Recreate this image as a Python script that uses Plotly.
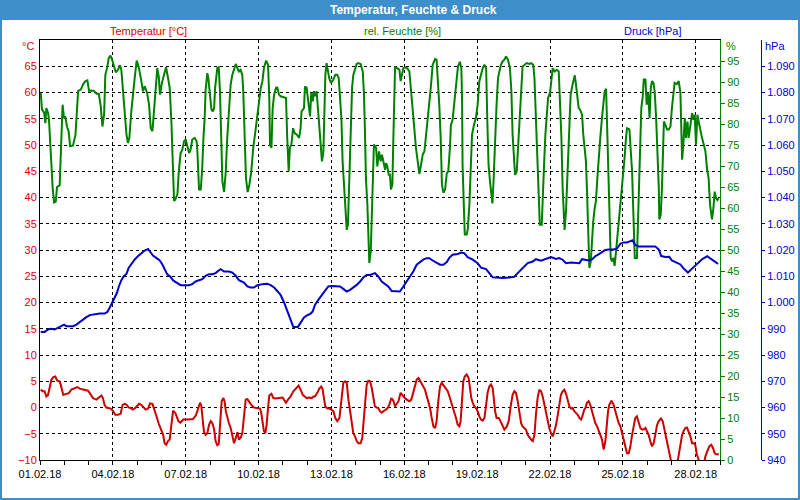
import pandas as pd
import plotly.graph_objects as go

start = pd.Timestamp("2018-02-01")

# ---- data (days since 01.02.18 00:00, values) ----
temp_days = [0.03,0.11,0.19,0.26,0.33,0.40,0.47,0.55,0.63,0.71,0.80,0.85,0.91,0.96,1.08,1.18,1.29,1.43,1.54,1.63,1.74,1.84,1.98,2.07,2.18,2.32,2.42,2.53,2.59,2.66,2.73,2.83,2.91,3.01,3.10,3.21,3.32,3.40,3.49,3.57,3.65,3.73,3.82,3.90,3.98,4.08,4.17,4.27,4.35,4.45,4.53,4.63,4.72,4.80,4.89,5.00,5.07,5.13,5.20,5.27,5.34,5.41,5.48,5.58,5.70,5.78,5.90,6.10,6.30,6.42,6.52,6.59,6.64,6.70,6.75,6.82,6.89,6.96,7.03,7.10,7.17,7.23,7.30,7.36,7.41,7.48,7.55,7.60,7.65,7.71,7.78,7.85,7.92,7.99,8.06,8.13,8.19,8.26,8.33,8.40,8.47,8.54,8.62,8.70,8.81,8.95,9.06,9.11,9.17,9.22,9.28,9.33,9.39,9.44,9.53,9.61,9.70,9.80,9.91,9.99,10.07,10.13,10.21,10.32,10.43,10.54,10.65,10.73,10.82,10.90,10.98,11.08,11.19,11.26,11.32,11.42,11.50,11.58,11.64,11.69,11.75,11.83,11.91,12.00,12.08,12.16,12.24,12.33,12.38,12.44,12.49,12.56,12.63,12.70,12.77,12.83,12.90,12.97,13.04,13.11,13.20,13.27,13.34,13.40,13.45,13.52,13.59,13.66,13.73,13.79,13.86,13.93,14.00,14.07,14.14,14.21,14.30,14.38,14.47,14.55,14.62,14.69,14.76,14.85,14.93,15.02,15.10,15.21,15.29,15.37,15.44,15.51,15.59,15.65,15.72,15.78,15.85,15.92,15.99,16.06,16.13,16.20,16.27,16.33,16.40,16.47,16.54,16.61,16.68,16.73,16.79,16.86,16.92,16.99,17.06,17.13,17.20,17.27,17.32,17.38,17.43,17.49,17.57,17.65,17.71,17.76,17.82,17.88,17.95,18.02,18.09,18.16,18.23,18.30,18.37,18.43,18.50,18.57,18.64,18.68,18.74,18.80,18.89,18.96,19.02,19.12,19.22,19.30,19.39,19.46,19.53,19.60,19.67,19.74,19.81,19.87,19.94,20.01,20.08,20.15,20.22,20.29,20.36,20.42,20.49,20.56,20.63,20.70,20.77,20.84,20.90,20.97,21.04,21.11,21.18,21.25,21.32,21.38,21.45,21.52,21.59,21.66,21.73,21.80,21.87,21.93,22.00,22.07,22.14,22.21,22.28,22.35,22.41,22.46,22.52,22.59,22.66,22.73,22.80,22.87,22.94,23.00,23.07,23.14,23.21,23.28,23.33,23.39,23.44,23.53,23.62,23.69,23.76,23.83,23.90,23.97,24.03,24.10,24.17,24.24,24.31,24.38,24.45,24.51,24.58,24.65,24.72,24.79,24.86,24.93,24.99,25.06,25.13,25.20,25.27,25.34,25.41,25.48,25.57,25.64,25.72,25.82,25.89,25.96,26.02,26.23,26.30,26.37,26.44,26.50,26.57,26.64,26.71,26.78,26.85,26.92,26.98,27.05,27.12,27.19,27.33,27.40,27.47,27.56,27.64,27.71,27.78,27.84,27.95]
temp_c = [3.4,3.1,3.1,2.1,2.4,4.0,5.3,5.8,5.9,5.1,5.0,4.4,3.0,2.4,2.6,2.7,3.4,3.7,3.9,3.6,3.5,3.4,3.2,2.6,1.8,1.5,1.8,2.3,1.8,0.5,0.0,-0.1,-0.2,-0.7,-1.4,-1.4,-1.2,0.5,0.7,0.5,0.0,-0.1,-0.4,-0.2,0.2,0.7,0.5,-0.1,-0.4,-0.2,0.8,0.7,-0.4,-1.7,-3.1,-4.2,-5.2,-6.8,-7.1,-6.4,-6.1,-3.3,-0.6,-1.1,-2.6,-2.9,-2.3,-2.3,-2.2,-1.5,0.0,0.9,0.4,-2.4,-4.6,-5.2,-4.9,-3.3,-2.6,-3.0,-4.2,-6.4,-7.2,-7.0,-2.6,1.2,1.8,1.2,-0.7,-2.0,-3.0,-3.9,-5.2,-6.8,-5.8,-4.7,-6.1,-5.8,-4.9,-1.4,1.5,1.6,0.9,0.5,0.0,-0.1,-0.2,-1.0,-3.3,-4.5,-4.9,-3.3,-0.1,2.3,2.6,1.8,1.7,1.8,1.8,1.9,1.3,0.9,1.5,2.1,3.1,3.7,4.2,3.4,2.4,2.1,1.8,1.9,1.8,2.1,2.1,2.8,3.6,4.0,3.4,1.8,0.2,-0.2,-0.2,-0.4,-0.7,-2.0,-2.6,-2.0,0.5,3.1,4.7,5.0,4.7,1.5,-1.0,-3.3,-4.9,-5.5,-6.4,-6.8,-6.8,-5.8,-2.0,1.8,4.3,5.1,5.0,3.7,1.8,0.2,0.0,-0.1,-0.7,-1.0,-0.7,-0.4,-0.2,0.5,1.8,1.3,0.2,0.7,1.2,2.8,2.3,1.8,1.5,1.2,1.5,3.1,4.3,5.3,5.6,5.0,4.3,4.0,3.4,2.1,1.2,-0.1,-2.0,-3.6,-3.9,-2.6,1.2,4.0,4.7,4.3,3.7,3.5,3.1,2.1,1.2,0.2,-0.7,-2.0,-3.3,-3.6,-2.6,1.8,5.0,5.9,6.3,5.6,3.1,1.8,0.9,0.2,-0.1,-0.7,-1.7,-2.3,-2.5,-2.0,0.5,2.8,4.0,4.4,3.7,1.8,-0.7,-2.0,-2.0,-2.6,-3.3,-4.2,-3.6,-2.6,0.5,2.4,3.1,2.8,1.2,-0.7,-3.0,-3.6,-3.9,-4.2,-5.2,-5.8,-6.1,-6.4,-5.2,-1.4,1.8,3.4,3.1,2.1,0.5,-1.4,-2.6,-3.9,-4.9,-5.5,-4.5,-3.3,-1.4,0.5,2.4,3.1,3.4,2.6,1.5,0.2,-0.2,-0.1,-0.7,-1.0,-1.4,-2.0,-2.3,-1.4,-0.4,-0.1,0.9,1.2,0.5,-0.7,-2.0,-3.0,-3.6,-4.5,-5.2,-6.1,-8.0,-6.4,-3.3,-0.7,0.5,1.3,0.5,-0.7,-2.0,-3.0,-3.6,-4.9,-6.4,-7.7,-8.7,-8.7,-7.4,-5.2,-3.3,-2.0,-1.7,-2.6,-3.9,-4.2,-4.2,-3.9,-4.5,-5.2,-6.4,-7.4,-6.8,-5.2,-3.3,-2.6,-2.1,-2.6,-4.5,-6.8,-8.4,-9.9,-11.0,-11.0,-9.0,-6.8,-5.2,-4.5,-3.9,-3.8,-4.5,-5.5,-6.8,-6.8,-7.1,-9.0,-9.9,-11.0,-11.0,-9.3,-8.4,-7.4,-7.1,-7.7,-8.7,-8.9,-8.9]

hum_days = [0.03,0.08,0.17,0.22,0.26,0.33,0.37,0.41,0.47,0.52,0.58,0.65,0.70,0.81,0.88,0.93,0.99,1.04,1.11,1.18,1.24,1.36,1.46,1.52,1.57,1.68,1.77,1.87,1.95,2.02,2.11,2.22,2.33,2.42,2.50,2.57,2.64,2.69,2.76,2.83,2.90,2.97,3.05,3.12,3.21,3.29,3.35,3.42,3.49,3.56,3.62,3.68,3.76,3.83,3.90,3.98,4.06,4.15,4.24,4.31,4.41,4.49,4.56,4.63,4.69,4.76,4.83,4.89,4.94,5.02,5.11,5.19,5.27,5.34,5.41,5.46,5.52,5.57,5.66,5.71,5.79,5.86,5.93,6.00,6.07,6.14,6.20,6.27,6.37,6.45,6.48,6.51,6.55,6.62,6.68,6.73,6.78,6.82,6.89,6.93,7.00,7.06,7.12,7.17,7.21,7.26,7.30,7.36,7.41,7.47,7.51,7.58,7.65,7.71,7.78,7.85,7.92,7.99,8.06,8.13,8.19,8.26,8.33,8.37,8.43,8.48,8.55,8.62,8.70,8.78,8.87,8.95,9.02,9.09,9.16,9.22,9.31,9.39,9.44,9.47,9.53,9.58,9.64,9.72,9.77,9.84,9.91,10.05,10.13,10.18,10.24,10.29,10.35,10.42,10.49,10.57,10.67,10.73,10.77,10.87,10.91,10.98,11.04,11.12,11.17,11.23,11.28,11.34,11.39,11.45,11.50,11.56,11.61,11.67,11.71,11.75,11.80,11.86,11.91,11.98,12.08,12.16,12.24,12.30,12.35,12.41,12.46,12.52,12.56,12.63,12.68,12.74,12.79,12.85,12.90,12.97,13.04,13.11,13.20,13.29,13.34,13.38,13.42,13.48,13.52,13.56,13.62,13.66,13.70,13.75,13.84,13.89,13.96,14.03,14.08,14.14,14.21,14.25,14.30,14.36,14.41,14.45,14.51,14.55,14.58,14.62,14.71,14.80,14.85,14.91,14.96,15.04,15.13,15.21,15.26,15.32,15.40,15.48,15.55,15.62,15.69,15.76,15.83,15.89,15.95,16.02,16.09,16.17,16.27,16.33,16.39,16.44,16.50,16.55,16.61,16.68,16.75,16.81,16.88,16.92,16.99,17.05,17.10,17.16,17.21,17.29,17.35,17.38,17.40,17.45,17.49,17.57,17.62,17.68,17.73,17.79,17.87,17.95,18.02,18.09,18.16,18.23,18.30,18.37,18.42,18.47,18.53,18.58,18.63,18.68,18.74,18.80,18.86,18.91,18.98,19.05,19.12,19.19,19.27,19.35,19.41,19.46,19.50,19.56,19.63,19.68,19.74,19.81,19.87,19.96,20.04,20.15,20.22,20.31,20.36,20.42,20.48,20.53,20.58,20.66,20.70,20.75,20.81,20.86,20.92,21.00,21.06,21.11,21.19,21.28,21.36,21.41,21.47,21.52,21.56,21.60,21.66,21.71,21.77,21.85,21.93,22.02,22.07,22.13,22.18,22.24,22.29,22.32,22.37,22.43,22.48,22.52,22.57,22.62,22.68,22.73,22.78,22.84,22.89,22.95,23.00,23.07,23.14,23.20,23.25,23.31,23.35,23.39,23.44,23.50,23.55,23.61,23.66,23.72,23.77,23.83,23.90,23.97,24.02,24.07,24.13,24.17,24.27,24.32,24.38,24.43,24.49,24.58,24.65,24.71,24.76,24.82,24.86,24.93,24.98,25.04,25.10,25.15,25.20,25.26,25.31,25.37,25.42,25.48,25.50,25.56,25.61,25.65,25.69,25.75,25.82,25.89,25.96,26.02,26.08,26.13,26.22,26.30,26.37,26.41,26.44,26.49,26.55,26.60,26.66,26.71,26.78,26.85,26.90,26.96,27.01,27.07,27.12,27.19,27.26,27.33,27.40,27.47,27.53,27.59,27.67,27.73,27.78,27.84,27.89,27.95]
hum_pct = [87.4,83.5,82.7,80.2,83.8,82.7,81.0,75.5,70.3,64.8,61.3,61.5,65.0,65.4,76.7,84.6,81.4,81.8,79.4,78.2,74.7,74.9,77.4,82.9,87.9,88.2,89.4,90.2,90.4,87.9,88.0,87.9,87.2,87.2,84.3,79.4,82.2,91.7,93.3,95.7,96.3,95.3,93.7,92.3,92.9,94.0,92.9,87.4,81.4,77.5,75.5,76.7,83.0,87.8,91.0,95.1,93.7,91.0,87.8,89.0,87.4,84.6,79.0,78.3,83.0,86.2,93.3,91.3,87.0,89.8,92.1,93.5,91.0,88.6,80.6,71.1,61.7,62.0,63.3,68.3,73.1,73.9,75.9,76.3,74.3,73.1,73.9,76.3,76.7,75.9,73.5,70.0,64.4,64.4,69.5,76.7,81.4,88.2,92.1,91.0,87.0,83.5,83.0,83.8,88.6,92.5,93.3,93.5,87.8,75.1,66.3,63.8,68.7,76.7,83.8,89.4,91.7,92.9,94.3,93.3,92.5,92.9,91.7,87.8,76.7,67.2,63.8,65.5,68.7,74.3,78.3,81.8,84.6,88.6,90.2,93.3,95.1,94.1,86.2,75.1,74.3,83.8,87.0,88.6,88.7,87.0,86.6,86.3,86.2,76.7,68.7,74.3,75.1,79.0,77.8,77.5,76.7,79.0,83.0,83.8,88.9,88.6,85.0,81.8,87.4,85.4,87.8,86.6,87.8,83.8,79.8,75.1,71.1,73.5,80.6,91.7,94.5,92.5,90.9,89.8,90.6,91.7,91.7,90.9,86.2,81.4,71.1,65.6,60.8,54.8,56.0,68.7,80.6,88.6,91.7,93.3,94.3,94.5,94.3,92.5,87.0,78.3,67.1,60.8,52.9,46.9,49.7,57.6,64.8,75.1,74.3,69.9,73.5,71.1,72.7,70.7,69.1,70.7,69.9,67.9,67.9,64.4,65.6,76.7,87.8,93.5,93.3,92.9,90.2,92.5,93.3,93.5,93.2,92.5,88.6,84.6,79.8,74.3,70.7,68.1,70.3,72.7,73.5,76.7,80.6,84.6,88.6,94.1,95.5,95.3,90.2,84.6,76.7,65.6,63.6,64.4,68.3,68.7,74.3,79.8,81.0,84.6,87.8,90.9,93.7,94.8,93.3,85.4,70.3,60.8,53.7,53.7,55.2,60.8,70.3,77.5,79.8,81.4,84.6,90.2,91.7,93.3,94.1,93.3,80.6,70.3,66.3,63.9,61.1,67.1,76.7,84.6,91.0,92.5,94.1,94.9,95.3,96.1,95.3,93.3,87.8,77.5,72.0,67.9,68.7,74.3,82.2,87.8,93.7,94.1,94.5,94.3,94.5,94.1,90.9,81.4,71.9,64.8,56.0,56.0,63.2,69.5,77.5,82.2,86.2,87.4,90.9,93.3,92.5,92.9,92.5,86.2,76.7,64.8,59.3,54.8,59.3,67.9,76.7,87.0,89.4,91.6,89.4,85.8,83.8,83.4,82.6,82.2,77.5,74.3,71.1,64.8,52.9,45.7,47.3,52.9,56.8,60.0,61.6,67.1,71.9,76.7,81.4,85.4,87.8,88.4,81.4,72.7,60.8,48.1,47.3,48.1,46.2,49.7,52.9,56.0,60.8,64.0,68.7,71.9,76.7,79.0,78.7,74.3,68.7,59.2,48.1,48.1,60.0,72.7,83.8,86.6,90.6,90.6,84.6,87.4,81.4,88.6,90.2,89.8,87.8,81.4,75.1,64.8,57.3,58.4,64.8,74.3,80.6,79.8,78.7,78.7,79.4,83.8,87.8,89.8,89.5,90.2,87.4,80.6,71.5,75.1,81.4,76.7,80.6,76.7,79.2,82.6,81.0,82.2,75.1,82.2,80.6,78.3,76.7,75.1,73.5,69.1,67.1,60.8,57.3,60.0,63.9,62.3,61.9,62.3]

pres_days = [0.03,0.19,0.33,0.47,0.60,0.74,0.88,0.99,1.08,1.22,1.36,1.50,1.63,1.77,1.91,2.05,2.18,2.32,2.46,2.66,2.77,2.87,2.97,3.07,3.17,3.25,3.35,3.45,3.56,3.65,3.76,3.90,4.04,4.17,4.31,4.45,4.56,4.65,4.79,4.93,5.04,5.13,5.24,5.38,5.48,5.66,5.79,5.93,6.14,6.27,6.41,6.55,6.68,6.82,6.96,7.10,7.23,7.37,7.44,7.58,7.78,7.92,8.06,8.19,8.40,8.54,8.67,8.81,8.95,9.16,9.36,9.50,9.64,9.77,9.91,10.05,10.16,10.25,10.35,10.43,10.62,10.73,10.87,11.01,11.12,11.23,11.32,11.46,11.60,11.74,11.87,12.01,12.15,12.35,12.49,12.63,12.77,12.90,13.04,13.18,13.31,13.45,13.59,13.79,13.93,14.07,14.21,14.34,14.48,14.62,14.82,14.96,15.10,15.24,15.37,15.51,15.65,15.78,15.92,16.03,16.17,16.33,16.47,16.61,16.75,16.86,16.99,17.20,17.34,17.47,17.61,17.82,18.02,18.16,18.37,18.50,18.64,18.78,19.05,19.33,19.53,19.67,19.81,19.94,20.08,20.29,20.42,20.63,20.77,20.90,21.04,21.25,21.38,21.52,21.66,21.87,22.07,22.21,22.32,22.43,22.59,22.73,22.87,23.00,23.14,23.28,23.42,23.62,23.76,23.90,24.03,24.17,24.31,24.40,24.51,24.65,24.86,25.06,25.34,25.48,25.58,25.75,25.91,26.02,26.19,26.37,26.50,26.68,26.85,27.05,27.26,27.47,27.60,27.74,27.92]
pres_hpa = [988.8,988.8,989.7,990.0,989.7,990.4,991.0,991.6,991.0,990.9,991.0,991.6,992.6,993.5,994.4,995.2,995.4,995.8,995.8,995.8,996.4,998.0,999.9,1001.8,1003.7,1006.2,1008.5,1010.0,1010.9,1013.2,1014.7,1016.4,1017.7,1018.9,1019.8,1020.4,1018.9,1017.9,1017.0,1016.0,1014.5,1012.8,1010.7,1009.7,1008.4,1007.4,1006.6,1006.6,1006.6,1007.0,1008.0,1008.5,1008.9,1010.2,1010.8,1010.8,1011.2,1012.3,1012.7,1011.8,1011.8,1011.4,1010.2,1008.5,1007.6,1006.1,1005.7,1005.7,1006.6,1007.0,1007.1,1006.6,1005.7,1004.4,1002.8,1000.0,997.4,994.9,992.4,990.7,990.7,992.4,994.3,995.2,995.6,996.6,999.1,1001.0,1002.9,1004.8,1006.1,1006.3,1006.1,1006.1,1005.2,1004.2,1004.8,1005.7,1006.7,1008.0,1009.5,1010.5,1010.5,1011.2,1009.9,1008.0,1007.0,1006.1,1004.4,1004.2,1004.2,1006.1,1008.0,1009.9,1011.8,1014.4,1015.4,1016.3,1016.9,1016.9,1016.0,1015.0,1014.4,1014.4,1015.4,1017.1,1018.2,1018.5,1019.0,1018.8,1017.3,1016.3,1015.0,1013.3,1012.7,1011.2,1009.6,1009.5,1009.3,1009.5,1009.8,1011.2,1012.4,1013.7,1015.0,1015.6,1016.5,1015.9,1016.3,1016.9,1017.3,1016.6,1016.9,1016.3,1015.0,1015.2,1015.2,1015.0,1016.5,1016.4,1016.0,1016.4,1017.7,1018.3,1019.0,1020.0,1020.2,1020.2,1020.6,1022.4,1022.9,1022.9,1023.4,1023.7,1021.9,1021.3,1021.3,1021.3,1021.3,1020.2,1017.7,1017.3,1017.4,1016.0,1015.4,1014.5,1013.0,1011.4,1012.9,1014.8,1016.5,1017.6,1016.8,1016.0,1014.7]

temp_ticks = list(range(-10, 70, 5))
hum_ticks = list(range(0, 100, 5))
pres_ticks = list(range(940, 1100, 10))
pres_labels = [f"{v:,}".replace(",", ".") for v in pres_ticks]

def to_time(days):
    return start + pd.to_timedelta(days, unit="D")

# ---- layout geometry ----
W, H = 800, 500
L, R, T, B = 40, 20, 40, 40
PW, PH = W - L - R, H - T - B

def px_x(px):
    return (px - L) / PW

def px_y(py):
    return (H - B - py) / PH

RED, GREEN, BLUE = "#cc0000", "#008000", "#0000cc"
BAR = "#3d8fc9"
FONT = "Liberation Sans"

fig = go.Figure()
fig.add_trace(go.Scatter(x=to_time(temp_days), y=temp_c, mode="lines",
                         line=dict(color=RED, width=2), yaxis="y", hoverinfo="skip"))
fig.add_trace(go.Scatter(x=to_time(hum_days), y=hum_pct, mode="lines",
                         line=dict(color=GREEN, width=2), yaxis="y2", hoverinfo="skip"))
fig.add_trace(go.Scatter(x=to_time(pres_days), y=pres_hpa, mode="lines",
                         line=dict(color=BLUE, width=2), yaxis="y3", hoverinfo="skip"))

DAY = 86400000
fig.update_layout(
    width=W, height=H, showlegend=False,
    margin=dict(l=L, r=R, t=T, b=B, pad=0, autoexpand=False),
    paper_bgcolor="white", plot_bgcolor="white",
    font=dict(family=FONT, size=11, color="black"),
    xaxis=dict(
        domain=[0, px_x(720)], type="date", automargin=False,
        range=[start, start + pd.Timedelta(days=28)],
        tick0=start, dtick=3 * DAY, tickformat="%d.%m.%y",
        ticks="outside", ticklen=4, tickcolor="black",
        showline=True, linecolor="black", linewidth=1, mirror=True,
        showgrid=True, gridcolor="black", gridwidth=1, griddash="3px,3px",
        zeroline=False,
        minor=dict(dtick=DAY, ticks="outside", ticklen=4, tickcolor="black", showgrid=False),
        tickfont=dict(family=FONT, size=11, color="black"),
    ),
    yaxis=dict(
        range=[-10, 70], tickvals=temp_ticks, ticks="", automargin=False,
        showline=True, linecolor="black", linewidth=1,
        showgrid=True, gridcolor="black", gridwidth=1, griddash="3px,3px",
        zeroline=False, tickfont=dict(family=FONT, size=11, color="#e00000"),
    ),
    yaxis2=dict(
        range=[0, 100], tickvals=hum_ticks, overlaying="y", side="right", anchor="x",
        ticks="outside", ticklen=4, tickcolor=GREEN, automargin=False,
        showline=True, linecolor=GREEN, linewidth=1,
        showgrid=False, zeroline=False,
        tickfont=dict(family=FONT, size=11, color=GREEN),
    ),
    yaxis3=dict(
        range=[940, 1100], tickvals=pres_ticks, ticktext=pres_labels,
        overlaying="y", side="right", anchor="free", position=px_x(761),
        ticks="outside", ticklen=3, tickcolor=BLUE, automargin=False,
        showline=True, linecolor=BLUE, linewidth=1,
        showgrid=False, zeroline=False,
        tickfont=dict(family=FONT, size=11, color=BLUE),
    ),
)

# title bar and border
fig.add_shape(type="rect", xref="paper", yref="paper",
              x0=px_x(0), x1=px_x(800), y0=px_y(20), y1=px_y(0),
              fillcolor=BAR, line=dict(width=0), layer="below")
fig.add_shape(type="rect", xref="paper", yref="paper",
              x0=px_x(1), x1=px_x(799), y0=px_y(499), y1=px_y(1),
              fillcolor="rgba(0,0,0,0)", line=dict(color=BAR, width=2))

def note(text, x, y, color, xanchor="center", size=11, bold=False):
    fig.add_annotation(text=f"<b>{text}</b>" if bold else text,
                       xref="paper", yref="paper", x=px_x(x), y=px_y(y),
                       xanchor=xanchor, yanchor="middle", showarrow=False,
                       font=dict(family=FONT, size=size, color=color))

note("Temperatur, Feuchte &amp; Druck", 414, 10, "white", size=12, bold=True)
note("Temperatur [°C]", 148, 31, "#e00000")
note("rel. Feuchte [%]", 402, 31, GREEN)
note("Druck [hPa]", 652, 31, BLUE)
note("°C", 36, 46, "#e00000", xanchor="right")
note("%", 724, 46, GREEN, xanchor="left")
note("hPa", 763, 46, BLUE, xanchor="left")

fig.write_html("out.html",
               config={"displayModeBar": False, "staticPlot": True},
               post_script="document.body.style.margin='0px';document.body.style.overflow='hidden';")
